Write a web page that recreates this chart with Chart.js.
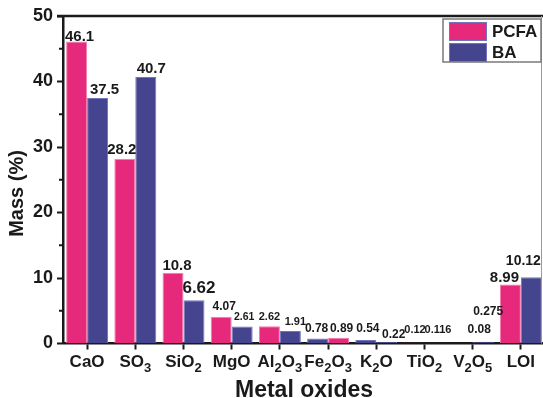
<!DOCTYPE html>
<html>
<head>
<meta charset="utf-8">
<script src="https://cdn.jsdelivr.net/npm/chart.js@4.4.1/dist/chart.umd.min.js"></script>
<style>
    html, body { margin: 0; padding: 0; background: #fff; overflow: hidden; }
    #wrap { width: 545px; height: 398px; }
</style>
</head>
<body>
<div id="wrap"><canvas id="oxides" width="545" height="398"></canvas></div>
<script>
// composition of the two ashes, mass %
const oxides = ["CaO", "SO3", "SiO2", "MgO", "Al2O3", "Fe2O3", "K2O", "TiO2", "V2O5", "LOI"];
const pcfaMass = [46.1, 28.2, 10.8, 4.07, 2.62, 0.78, 0.54, 0.12, 0.08, 8.99];
const baMass = [37.5, 40.7, 6.62, 2.61, 1.91, 0.89, 0.22, 0.116, 0.275, 10.12];
const massTicks = [0, 10, 20, 30, 40, 50];
const massMinorTicks = [5, 15, 25, 35, 45];

const FONT = "'Liberation Sans', Arial, sans-serif";
const INK = "#1a1a1a";
const PINK = "#E6297B";
const PINK_EDGE = "#F27CAE";
const BLUE = "#45458F";
const BLUE_EDGE = "#7474BC";

// bar fills as printed (a few bars swap colour in the original plot)
const pcfaFill = [PINK, PINK, PINK, PINK, PINK, BLUE, BLUE, PINK, PINK, PINK];
const baFill = [BLUE, BLUE, BLUE, BLUE, BLUE, PINK, BLUE, BLUE, BLUE, BLUE];
const edgeOf = function (c) { return c === PINK ? PINK_EDGE : BLUE_EDGE; };

// value label styling: font size and [dx, gap above bar top]
const pcfaLabelFont = [15, 15, 15, 12, 11, 12, 12, 11, 12, 15];
const baLabelFont = [15, 15, 17, 10.5, 11, 12, 12, 11, 12, 14];
const pcfaLabelShift = [[3, 1], [-3, 5], [4, 3], [3, 7], [0, 6], [-1, 6], [2, 8], [1, 10], [17, 10], [-6, 3]];
const baLabelShift = [[7, 4], [5.5, 4], [5, 7], [2, 6], [5, 6], [3, 6], [7, 4], [3, 10], [5, 27], [-8, 12]];

// writes e.g. "Fe2O3" with the digits as subscripts, centred on cx
function drawFormula(ctx, text, cx, baseline) {
    const main = "bold 17px " + FONT;
    const sub = "bold 13px " + FONT;
    const parts = text.match(/\d+|\D+/g);
    let total = 0;
    parts.forEach(function (p) {
        ctx.font = /\d/.test(p) ? sub : main;
        total += ctx.measureText(p).width;
    });
    let x = cx - total / 2;
    ctx.textAlign = "left";
    ctx.textBaseline = "alphabetic";
    parts.forEach(function (p) {
        const isSub = /\d/.test(p);
        ctx.font = isSub ? sub : main;
        ctx.fillText(p, x, isSub ? baseline + 5 : baseline);
        x += ctx.measureText(p).width;
    });
}

const decorations = {
    id: "decorations",
    afterDraw: function (chart) {
        const ctx = chart.ctx;
        const area = chart.chartArea;
        const xs = chart.scales.x;
        const ys = chart.scales.y;
        ctx.save();

        // frame: heavy top edge, faint right edge
        ctx.strokeStyle = INK;
        ctx.lineWidth = 2.5;
        ctx.beginPath();
        ctx.moveTo(area.left - 6, area.top);
        ctx.lineTo(area.right, area.top);
        ctx.stroke();
        ctx.strokeStyle = "#9a9a9a";
        ctx.lineWidth = 1;
        ctx.beginPath();
        ctx.moveTo(541.5, area.top);
        ctx.lineTo(541.5, area.bottom);
        ctx.stroke();

        // minor ticks on the mass axis
        ctx.strokeStyle = INK;
        ctx.lineWidth = 2;
        massMinorTicks.forEach(function (v) {
            const y = ys.getPixelForValue(v);
            ctx.beginPath();
            ctx.moveTo(area.left - 4, y);
            ctx.lineTo(area.left, y);
            ctx.stroke();
        });

        // category labels with subscripts
        ctx.fillStyle = INK;
        oxides.forEach(function (name, i) {
            drawFormula(ctx, name, xs.getPixelForValue(i), area.bottom + 23.5);
        });

        // y title
        ctx.translate(17, 193.5);
        ctx.rotate(-Math.PI / 2);
        ctx.font = "bold 20px " + FONT;
        ctx.textAlign = "center";
        ctx.textBaseline = "middle";
        ctx.fillText("Mass (%)", 0, 0);
        ctx.setTransform(1, 0, 0, 1, 0, 0);

        // legend box in the top right corner
        const bx = 443, by = 19, bw = 98, bh = 43;
        ctx.strokeStyle = "#7a7a7a";
        ctx.lineWidth = 1.5;
        ctx.strokeRect(bx, by, bw, bh);
        chart.data.datasets.forEach(function (ds, i) {
            const sy = by + 3 + i * 21;
            ctx.fillStyle = ds.legendColor;
            ctx.fillRect(bx + 6, sy, 38, 19);
            ctx.strokeStyle = BLUE_EDGE;
            ctx.lineWidth = 1;
            ctx.strokeRect(bx + 6.5, sy + 0.5, 37, 18);
            ctx.fillStyle = INK;
            ctx.font = "bold 17px " + FONT;
            ctx.textAlign = "left";
            ctx.textBaseline = "middle";
            ctx.fillText(ds.label, bx + 49, sy + 10);
        });
        ctx.restore();
    },
    afterDatasetsDraw: function (chart) {
        const ctx = chart.ctx;
        ctx.save();
        ctx.fillStyle = INK;
        ctx.textAlign = "center";
        ctx.textBaseline = "alphabetic";
        chart.data.datasets.forEach(function (ds, d) {
            chart.getDatasetMeta(d).data.forEach(function (bar, i) {
                const shift = ds.labelShift[i];
                ctx.font = "bold " + ds.labelFont[i] + "px " + FONT;
                ctx.fillText(String(ds.data[i]), bar.x + shift[0], bar.y - shift[1]);
            });
        });
        ctx.restore();
    },
};

new Chart(document.getElementById("oxides").getContext("2d"), {
    type: "bar",
    data: {
        labels: oxides,
        datasets: [
            {
                label: "PCFA",
                data: pcfaMass,
                backgroundColor: pcfaFill,
                borderColor: pcfaFill.map(edgeOf),
                borderWidth: 1,
                legendColor: PINK,
                labelFont: pcfaLabelFont,
                labelShift: pcfaLabelShift,
            },
            {
                label: "BA",
                data: baMass,
                backgroundColor: baFill,
                borderColor: baFill.map(edgeOf),
                borderWidth: 1,
                legendColor: BLUE,
                labelFont: baLabelFont,
                labelShift: baLabelShift,
            },
        ],
    },
    options: {
        responsive: false,
        animation: false,
        devicePixelRatio: 1,
        categoryPercentage: 0.87,
        barPercentage: 1.0,
        layout: { padding: { top: 16, left: 0, right: 0, bottom: 0 } },
        plugins: { legend: { display: false }, tooltip: { enabled: false } },
        scales: {
            x: {
                grid: {
                    offset: false,
                    drawOnChartArea: false,
                    drawTicks: true,
                    tickLength: 6,
                    tickColor: INK,
                    tickWidth: 2,
                },
                border: { color: INK, width: 2.5 },
                ticks: { display: false },
                title: {
                    display: true,
                    text: "Metal oxides",
                    color: INK,
                    font: { family: FONT, size: 23, weight: "bold" },
                    padding: { top: 0, bottom: -6 },
                },
                afterFit: function (scale) { scale.height = 54.5; },
            },
            y: {
                min: 0,
                max: 50,
                afterBuildTicks: function (scale) {
                    scale.ticks = massTicks.map(function (v) { return { value: v }; });
                },
                grid: {
                    drawOnChartArea: false,
                    drawTicks: true,
                    tickLength: 6,
                    tickColor: INK,
                    tickWidth: 2,
                },
                border: { color: INK, width: 2.5 },
                ticks: {
                    color: INK,
                    padding: 4,
                    font: { family: FONT, size: 18, weight: "bold" },
                },
                afterFit: function (scale) { scale.width = 63; },
            },
        },
    },
    plugins: [decorations],
});
</script>
</body>
</html>
